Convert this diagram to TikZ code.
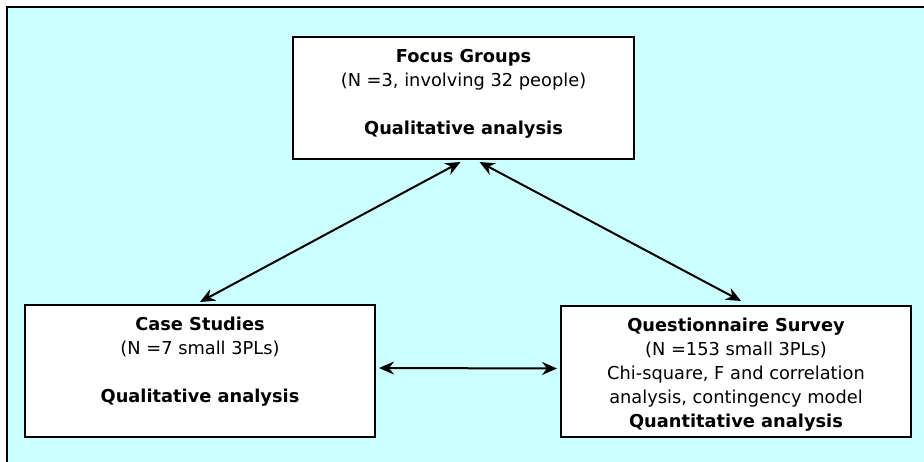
\documentclass[tikz,border=0pt]{standalone}
\usepackage{fontspec}
\setmainfont{DejaVu Sans}
\usetikzlibrary{arrows.meta}
\definecolor{bgcyan}{RGB}{204,255,255}
\tikzset{
  box/.style={draw=black, line width=2pt, fill=white, align=center,
    font=\fontsize{17.8}{24}\selectfont, inner sep=0pt},
  link/.style={line width=2pt, {Stealth[length=15pt,width=13pt,inset=5pt]}-{Stealth[length=15pt,width=13pt,inset=5pt]}}
}
\begin{document}
\begin{tikzpicture}[x=1pt,y=-1pt]
\useasboundingbox (0,0) rectangle (924,462);
\fill[bgcyan] (6,7) rectangle (924,462);
\draw[line width=2.2pt] (7,462) -- (7,7) -- (924,7);
\node[box, minimum width=341pt, minimum height=122pt] (fg) at (463.5,98)
  {\textbf{Focus Groups}\\(N =3, involving 32 people)\\ \mbox{}\\\textbf{Qualitative analysis}\\[-12pt]\mbox{}};
\node[box, minimum width=350pt, minimum height=132pt] (cs) at (200,371)
  {\textbf{Case Studies}\\(N =7 small 3PLs)\\ \mbox{}\\\textbf{Qualitative analysis}\\[-2pt]\mbox{}};
\node[box, minimum width=350pt, minimum height=131pt] (qs) at (736,371.5)
  {\mbox{}\\[-5pt]\textbf{Questionnaire Survey}\\(N =153 small 3PLs)\\Chi-square, F and correlation\\analysis, contingency model\\\textbf{Quantitative analysis}};
\draw[link] ([xshift=-3pt,yshift=-2pt]fg.south) -- ([yshift=2pt]cs.north);
\draw[link] ([xshift=16pt,yshift=-2pt]fg.south) -- ([xshift=5pt,yshift=4pt]qs.north);
\draw[link] ([xshift=3pt,yshift=3pt]cs.east) -- ([xshift=-3pt,yshift=3pt]qs.west);
\end{tikzpicture}
\end{document}
